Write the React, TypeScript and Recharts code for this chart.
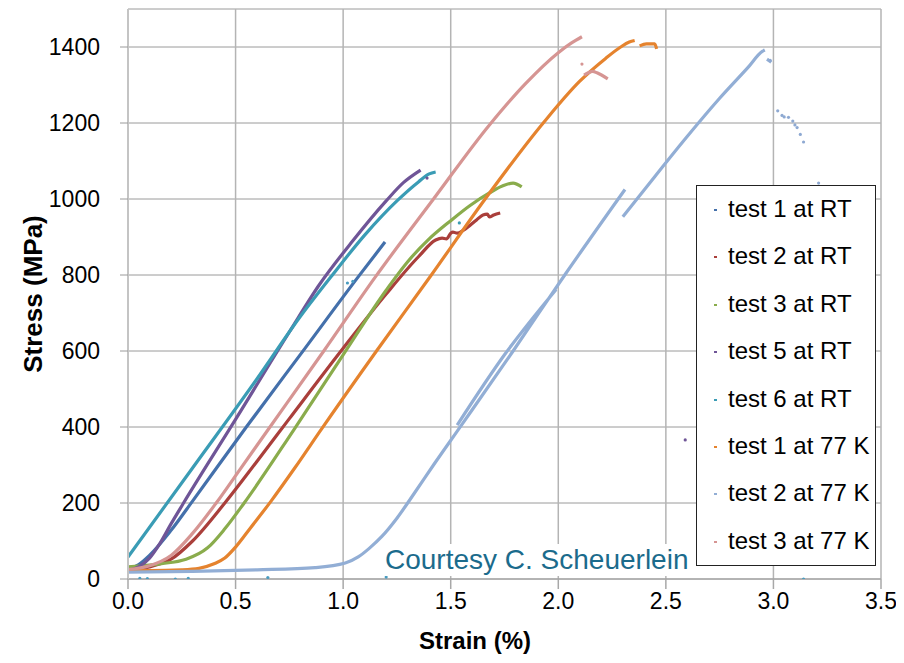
import React from 'react';
import { ComposedChart, Line, Scatter, XAxis, YAxis, CartesianGrid, Legend } from 'recharts';

// [strain %, stress MPa]; null stress = gap between segments
const test1RT = [[0, 25], [0.05, 38], [0.1, 62], [0.2, 128], [0.3, 205], [0.55, 400], [0.82, 605], [1.07, 795], [1.195, 887]];
const test2RT = [[0, 25], [0.1, 32], [0.2, 52], [0.3, 100], [0.45, 200], [0.6, 310], [0.75, 422], [0.99, 600], [1.2, 750], [1.35, 848], [1.43, 892], [1.46, 897], [1.48, 895], [1.5, 910], [1.51, 913], [1.53, 910], [1.56, 918], [1.62, 945], [1.65, 958], [1.67, 960], [1.68, 953], [1.7, 958], [1.73, 963]];
const test3RT = [[0, 32], [0.15, 40], [0.27, 52], [0.37, 82], [0.45, 132], [0.54, 200], [0.77, 392], [1.0, 590], [1.2, 760], [1.3, 835], [1.4, 895], [1.5, 943], [1.59, 983], [1.68, 1016], [1.74, 1034], [1.79, 1042], [1.83, 1032]];
const test5RT = [[0, 22], [0.05, 32], [0.1, 55], [0.15, 95], [0.2, 145], [0.256, 198], [0.5, 420], [0.75, 650], [0.89, 775], [1.045, 890], [1.2, 995], [1.28, 1043], [1.36, 1076]];
const test6RT = [[0, 58], [0.3, 292], [0.6, 527], [0.8, 690], [0.95, 800], [1.1, 905], [1.25, 995], [1.35, 1045], [1.4, 1066], [1.43, 1071]];
const test1K77 = [[0, 22], [0.1, 22], [0.25, 24], [0.33, 28], [0.4, 40], [0.45, 55], [0.5, 84], [0.57, 135], [0.665, 205], [0.775, 292], [0.9, 395], [1.155, 600], [1.41, 800], [1.66, 1000], [1.93, 1200], [2.1, 1310], [2.22, 1370], [2.29, 1400], [2.33, 1413], [2.355, 1417], [2.36, null], [2.378, 1403], [2.41, 1408], [2.448, 1408], [2.457, 1395]];
const test2K77 = [[0, 18], [0.3, 20], [0.6, 24], [0.87, 30], [1.01, 42], [1.07, 58], [1.12, 80], [1.18, 112], [1.25, 160], [1.33, 225], [1.42, 300], [1.55, 405], [1.79, 600], [2.03, 800], [2.31, 1025], [2.31, null], [1.53, 405], [1.75, 590], [1.99, 762], [1.99, null], [2.3, 953], [2.45, 1060], [2.6, 1165], [2.75, 1265], [2.88, 1345], [2.95, 1389], [2.96, 1392], [2.965, null], [2.97, 1368], [2.99, 1360]];
const test3K77 = [[0, 25], [0.1, 35], [0.2, 62], [0.3, 120], [0.41, 200], [0.52, 288], [0.65, 392], [0.91, 600], [1.15, 795], [1.42, 1000], [1.68, 1195], [1.85, 1305], [2.0, 1385], [2.06, 1410], [2.11, 1427], [2.115, null], [2.12, 1326], [2.16, 1336], [2.18, 1332], [2.23, 1316]];

// isolated stray points
const strayBlue = [[0.055, 2], [0.09, 1], [0.22, 0], [0.28, 2], [0.65, 4], [1.2, 5], [3.14, 0], [1.02, 779], [1.045, 783]];
const strayTeal = [[1.54, 937]];
const strayPurple = [[2.59, 366], [1.39, 1055]];
const strayLightBlue = [[2.985, 1365], [3.02, 1232], [3.04, 1220], [3.05, 1216], [3.07, 1215], [3.09, 1205], [3.1, 1195], [3.11, 1188], [3.125, 1170], [3.14, 1150], [3.21, 1042]];
const strayPink = [[2.11, 1355]];

const seriesNames = ['test 1 at RT', 'test 2 at RT', 'test 3 at RT', 'test 5 at RT', 'test 6 at RT', 'test 1 at 77 K', 'test 2 at 77 K', 'test 3 at 77 K'];
const seriesColors = ['#4470ab', '#aa3f3b', '#8aac4c', '#6f5597', '#3a9cb5', '#e5832e', '#92aed5', '#d69593'];
const seriesData = [test1RT, test2RT, test3RT, test5RT, test6RT, test1K77, test2K77, test3K77];

const xTicks = [0, 0.5, 1, 1.5, 2, 2.5, 3, 3.5];
const yTicks = [0, 200, 400, 600, 800, 1000, 1200, 1400];

const toPts = (arr: (number | null)[][]) => arr.map(([x, y]) => ({ x, y }));

const FONT = '"Liberation Sans", Arial, sans-serif';

const dot = (color: string) => (props: any) => (
  <circle cx={props.cx} cy={props.cy} r={1.6} fill={color} />
);

const YTitle = (props: any) => {
  const vb = props.viewBox || { x: 0, y: 0, width: 0, height: 0 };
  const cx = vb.x + 25;
  const cy = vb.y + vb.height / 2;
  return (
    <text x={cx} y={cy} transform={`rotate(-90 ${cx} ${cy})`} textAnchor="middle" dominantBaseline="central"
      fontFamily={FONT} fontWeight="bold" fontSize={26} fill="#000">Stress (MPa)</text>
  );
};

const XTitle = (props: any) => {
  const vb = props.viewBox || { x: 0, y: 0, width: 0, height: 0 };
  return (
    <text x={467} y={vb.y + 61} textAnchor="middle" dominantBaseline="central"
      fontFamily={FONT} fontWeight="bold" fontSize={24} fill="#000">Strain (%)</text>
  );
};

const LegendBox = () => (
  <div style={{ width: 178, height: 379, border: '1px solid #222', background: '#fff', fontFamily: FONT, fontSize: 24, color: '#000' }}>
    {seriesNames.map((n, i) => (
      <div key={n} style={{ height: 47.4, position: 'relative' }}>
        <span style={{ position: 'absolute', left: 17, top: 23, width: 3, height: 2, background: seriesColors[i] }} />
        <span style={{ position: 'absolute', left: 31, top: 9, lineHeight: '28px', whiteSpace: 'nowrap' }}>{n}</span>
      </div>
    ))}
  </div>
);

export default function App() {
  return (
    <div style={{ position: 'relative', width: 896, height: 655 }}>
      <ComposedChart width={896} height={655} margin={{ top: 1, right: 23, bottom: 0, left: 0 }}>
        <CartesianGrid horizontal={true} vertical={false} stroke="#9a9a9a" strokeWidth={1} />
        <CartesianGrid horizontal={false} vertical={true} stroke="#b4b4b4" strokeWidth={1.5} />
        <XAxis type="number" dataKey="x" domain={[0, 3.5]} ticks={xTicks} allowDataOverflow
          tickFormatter={(v: number) => v.toFixed(1)} height={84} tickSize={10} tickMargin={4}
          axisLine={{ stroke: '#9a9a9a' }} tickLine={{ stroke: '#a8a8a8', strokeWidth: 1.5 }}
          tick={{ fill: '#000', fontSize: 23, fontFamily: FONT }} label={XTitle} />
        <YAxis type="number" dataKey="y" domain={[0, 1500]} ticks={yTicks} allowDataOverflow
          width={120} tickSize={8} tickMargin={20}
          axisLine={{ stroke: '#c4c4c4', strokeWidth: 2 }} tickLine={{ stroke: '#9a9a9a' }}
          tick={{ fill: '#000', fontSize: 23, fontFamily: FONT }} label={YTitle} />
        {seriesData.map((d, i) => (
          <Line key={seriesNames[i]} name={seriesNames[i]} data={toPts(d)} dataKey="y" type="monotone"
            stroke={seriesColors[i]} strokeWidth={3.2} dot={false} activeDot={false}
            isAnimationActive={false} connectNulls={false} legendType="none" />
        ))}
        <Scatter data={toPts(strayBlue)} fill="#4a9cc0" shape={dot('#4a9cc0')} isAnimationActive={false} legendType="none" />
        <Scatter data={toPts(strayTeal)} fill="#3a9cb5" shape={dot('#3a9cb5')} isAnimationActive={false} legendType="none" />
        <Scatter data={toPts(strayPurple)} fill="#6f5597" shape={dot('#6f5597')} isAnimationActive={false} legendType="none" />
        <Scatter data={toPts(strayLightBlue)} fill="#8ea9d2" shape={dot('#8ea9d2')} isAnimationActive={false} legendType="none" />
        <Scatter data={toPts(strayPink)} fill="#d69593" shape={dot('#d69593')} isAnimationActive={false} legendType="none" />
        <Legend layout="horizontal" verticalAlign="middle" align="center" content={LegendBox}
          wrapperStyle={{ position: 'absolute', left: 688, top: 177, width: 180, height: 381 }} />
      </ComposedChart>
      <div style={{ position: 'absolute', left: 375, top: 536, height: 32, padding: '0 2px', background: '#fff',
        fontFamily: FONT, fontSize: 28, lineHeight: '32px', color: '#1b6b8c', whiteSpace: 'nowrap' }}>
        Courtesy C. Scheuerlein
      </div>
    </div>
  );
}
